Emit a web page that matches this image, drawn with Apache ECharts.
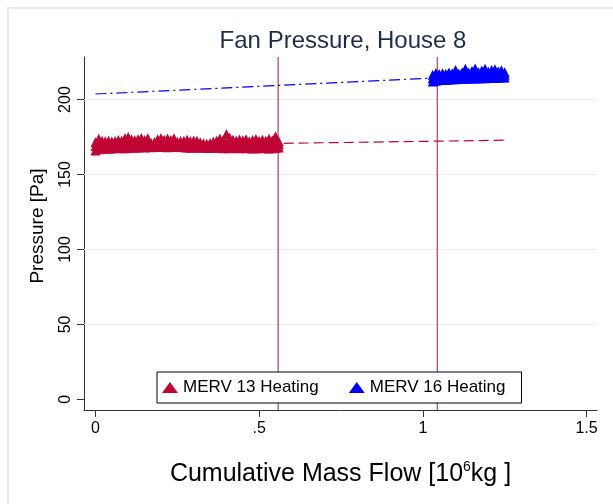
<!DOCTYPE html>
<html>
<head>
<meta charset="utf-8">
<title>Fan Pressure, House 8</title>
<script src="https://cdn.jsdelivr.net/npm/echarts@6/dist/echarts.min.js"></script>
<style>
  html, body { margin: 0; padding: 0; background: #fff; }
  #main { width: 613px; height: 504px; }
</style>
</head>
<body>
<div id="main"></div>
<script>
// 数据
var merv13X = [0.00, 0.01, 0.02, 0.03, 0.04, 0.05, 0.06, 0.07, 0.08, 0.09,
               0.10, 0.11, 0.12, 0.13, 0.14, 0.15, 0.16, 0.17, 0.18, 0.19,
               0.20, 0.21, 0.22, 0.23, 0.24, 0.25, 0.26, 0.27, 0.28, 0.29,
               0.30, 0.31, 0.32, 0.33, 0.34, 0.35, 0.36, 0.37, 0.38, 0.39,
               0.40, 0.41, 0.42, 0.43, 0.44, 0.45, 0.46, 0.47, 0.48, 0.49,
               0.50, 0.51, 0.52, 0.53, 0.54, 0.55, 0.56];
var merv13High = [171.5, 173.8, 172.5, 172.2, 172.6, 172.0, 172.4, 173.0, 172.5, 174.2,
                  175.0, 173.6, 172.8, 173.5, 174.3, 173.0, 174.2, 171.0, 171.5, 173.6,
                  174.3, 173.2, 174.0, 173.0, 174.2, 171.8, 172.3, 172.6, 173.2, 172.4,
                  172.7, 172.5, 171.5, 170.8, 170.6, 171.0, 171.8, 172.6, 174.0, 173.0,
                  177.0, 174.5, 173.2, 172.7, 173.4, 172.8, 173.6, 172.2, 173.0, 173.7,
                  172.6, 173.2, 172.5, 173.8, 172.9, 175.5, 172.0];
var merv13Mid = [169.0, 170.2, 170.0, 169.8, 170.1, 169.9, 170.3, 170.4, 170.0, 170.6,
                 170.8, 170.5, 170.3, 170.6, 170.9, 170.4, 170.8, 169.9, 170.1, 170.7,
                 170.9, 170.6, 170.8, 170.5, 170.9, 170.2, 170.4, 170.5, 170.6, 170.3,
                 170.4, 170.3, 170.0, 169.7, 169.6, 169.8, 170.1, 170.3, 170.7, 170.4,
                 171.2, 170.8, 170.5, 170.4, 170.6, 170.4, 170.7, 170.2, 170.5, 170.7,
                 170.4, 170.6, 170.3, 170.7, 170.5, 171.0, 170.2];
var merv13Low = [166.0, 166.8, 167.3, 167.5, 167.2, 167.4, 167.9, 168.0, 167.6, 167.5,
                 167.8, 168.2, 167.9, 168.1, 168.3, 168.0, 168.4, 168.2, 168.5, 168.3,
                 168.6, 168.4, 168.2, 168.5, 168.3, 168.6, 168.4, 168.2, 168.0, 167.8,
                 168.1, 167.9, 168.2, 168.0, 167.7, 167.9, 168.1, 167.8, 168.0, 167.6,
                 167.8, 167.5, 167.7, 167.9, 167.6, 167.8, 167.5, 167.7, 167.4, 167.6,
                 167.8, 167.5, 167.7, 167.4, 167.6, 167.8, 168.0];

var merv16X = [1.03, 1.04, 1.05, 1.06, 1.07, 1.08, 1.09, 1.10, 1.11, 1.12,
               1.13, 1.14, 1.15, 1.16, 1.17, 1.18, 1.19, 1.20, 1.21, 1.22,
               1.23, 1.24, 1.25];
var merv16High = [216.5, 217.8, 217.0, 217.5, 217.2, 218.0, 217.6, 219.8, 217.4, 218.2,
                  220.5, 218.0, 219.0, 220.8, 218.3, 219.4, 220.5, 218.6, 219.8, 220.2,
                  218.9, 219.5, 218.2];
var merv16Mid = [214.2, 215.0, 215.0, 215.3, 215.1, 215.6, 215.5, 216.4, 215.6, 216.0,
                 216.8, 216.0, 216.5, 217.1, 216.2, 216.8, 217.2, 216.5, 217.1, 217.2,
                 216.8, 217.1, 216.5];
var merv16Low = [212.0, 212.6, 213.0, 213.2, 213.1, 213.4, 213.5, 213.6, 213.8, 213.7,
                 213.9, 214.0, 214.1, 214.0, 214.2, 214.3, 214.2, 214.4, 214.5, 214.4,
                 214.6, 214.7, 214.8];

// fitted lines
var merv13FitX = [0.575, 1.252];
var merv13FitY = [170.8, 172.9];
var merv16FitX = [0.0, 1.03];
var merv16FitY = [203.7, 214.3];

// filter change positions
var changeX = [0.558, 1.044];

var xTicks = [0, 0.5, 1, 1.5];
var yTicks = [0, 50, 100, 150, 200];
var yGrid = [50, 100, 150, 200];

var seriesNames = ['MERV 13 Heating', 'MERV 16 Heating'];

var X_MIN = -0.035, X_MAX = 1.532;
var Y_MIN = -7.1, Y_MAX = 228.4;

var RED = '#c00535';
var BLUE = '#0000ff';
var FONT = '"Liberation Sans", Arial, sans-serif';

function pairs(xs, ys){
    var out = [];
    for (var i = 0; i < xs.length; i++) {
        out.push([xs[i], ys[i]]);
    }
    return out;
}

function initChart(){
    var myChart = echarts.init(document.getElementById('main'), null, {renderer: 'canvas'});

    var series = [];

    // 网格线
    yGrid.forEach(function(v){
        series.push({
            type: 'line', silent: true, symbol: 'none', z: 1,
            data: [[X_MIN, v], [X_MAX, v]],
            lineStyle: { color: '#e6eef0', width: 1, type: 'solid' }
        });
    });
    // vertical lines where the filter changed
    changeX.forEach(function(v){
        series.push({
            type: 'line', silent: true, symbol: 'none', z: 1,
            data: [[v, Y_MIN], [v, Y_MAX]],
            lineStyle: { color: '#b3123c', width: 1, type: 'solid' }
        });
    });

    series.push({
        name: 'MERV 13 fit',
        type: 'line',
        data: pairs(merv13FitX, merv13FitY),
        symbol: 'none',
        silent: true,
        z: 2,
        lineStyle: { color: RED, width: 1.2, type: [10, 5] }
    });
    series.push({
        name: 'MERV 16 fit',
        type: 'line',
        data: pairs(merv16FitX, merv16FitY),
        symbol: 'none',
        silent: true,
        z: 2,
        lineStyle: { color: BLUE, width: 1.2, type: [11, 4, 2, 4] }
    });
    series.push({
        name: seriesNames[0],
        type: 'scatter',
        symbol: 'triangle',
        symbolSize: 10,
        z: 3,
        itemStyle: { color: RED, opacity: 1 },
        data: pairs(merv13X, merv13High)
            .concat(pairs(merv13X, merv13Mid))
            .concat(pairs(merv13X, merv13Low))
    });
    series.push({
        name: seriesNames[1],
        type: 'scatter',
        symbol: 'triangle',
        symbolSize: 10,
        z: 3,
        itemStyle: { color: BLUE, opacity: 1 },
        data: pairs(merv16X, merv16High)
            .concat(pairs(merv16X, merv16Mid))
            .concat(pairs(merv16X, merv16Low))
    });

    var option = {
        animation: false,
        backgroundColor: '#fff',
        textStyle: { fontFamily: FONT },
        graphic: [
            {   // light frame like the graph region border
                type: 'rect',
                shape: { x: 8, y: 8, width: 700, height: 600 },
                style: { fill: null, stroke: '#e4ecef', lineWidth: 2 },
                silent: true
            },
            {
                type: 'text',
                x: 343, y: 41,
                style: {
                    text: 'Fan Pressure, House 8',
                    font: '24px ' + FONT,
                    fill: '#1c2c4f',
                    align: 'center',
                    verticalAlign: 'middle'
                },
                silent: true
            },
            {
                type: 'text',
                x: 38, y: 226,
                rotation: Math.PI / 2,
                style: {
                    text: 'Pressure [Pa]',
                    font: '19px ' + FONT,
                    fill: '#000',
                    align: 'center',
                    verticalAlign: 'middle'
                },
                silent: true
            }
        ],
        grid: { left: 84, right: 16, top: 57, bottom: 94, containLabel: false },
        legend: {
            data: seriesNames,
            left: 157, top: 372,
            orient: 'horizontal',
            padding: [7, 16, 7, 5],
            itemWidth: 16, itemHeight: 11,
            itemGap: 30,
            borderColor: '#000', borderWidth: 1,
            backgroundColor: '#fff',
            itemStyle: { opacity: 1 },
            textStyle: { fontSize: 17, color: '#000', fontFamily: FONT }
        },
        xAxis: {
            type: 'value',
            min: X_MIN, max: X_MAX,
            name: '{a|Cumulative Mass Flow [10}{s|6}{a|kg ]}',
            nameLocation: 'middle',
            nameGap: 50,
            nameTextStyle: {
                rich: {
                    a: { fontSize: 25, color: '#000', fontFamily: FONT, lineHeight: 28 },
                    s: { fontSize: 14, color: '#000', fontFamily: FONT, lineHeight: 28, verticalAlign: 'top', padding: [0, 0, 11, 0] }
                }
            },
            axisLine: { onZero: false, lineStyle: { color: '#333', width: 1 } },
            axisTick: { length: 7, customValues: xTicks, lineStyle: { color: '#333' } },
            axisLabel: {
                customValues: xTicks,
                margin: 11,
                fontSize: 16, color: '#000', fontFamily: FONT,
                formatter: function(v){ return String(v).replace(/^0\./, '.'); }
            },
            splitLine: { show: false }
        },
        yAxis: {
            type: 'value',
            min: Y_MIN, max: Y_MAX,
            axisLine: { show: true, onZero: false, lineStyle: { color: '#333', width: 1 } },
            axisTick: { show: true, length: 7, customValues: yTicks, lineStyle: { color: '#333' } },
            axisLabel: {
                customValues: yTicks,
                rotate: 90,
                margin: 10,
                fontSize: 16, color: '#000', fontFamily: FONT
            },
            splitLine: { show: false }
        },
        series: series
    };

    myChart.setOption(option);
}

initChart();
</script>
</body>
</html>
